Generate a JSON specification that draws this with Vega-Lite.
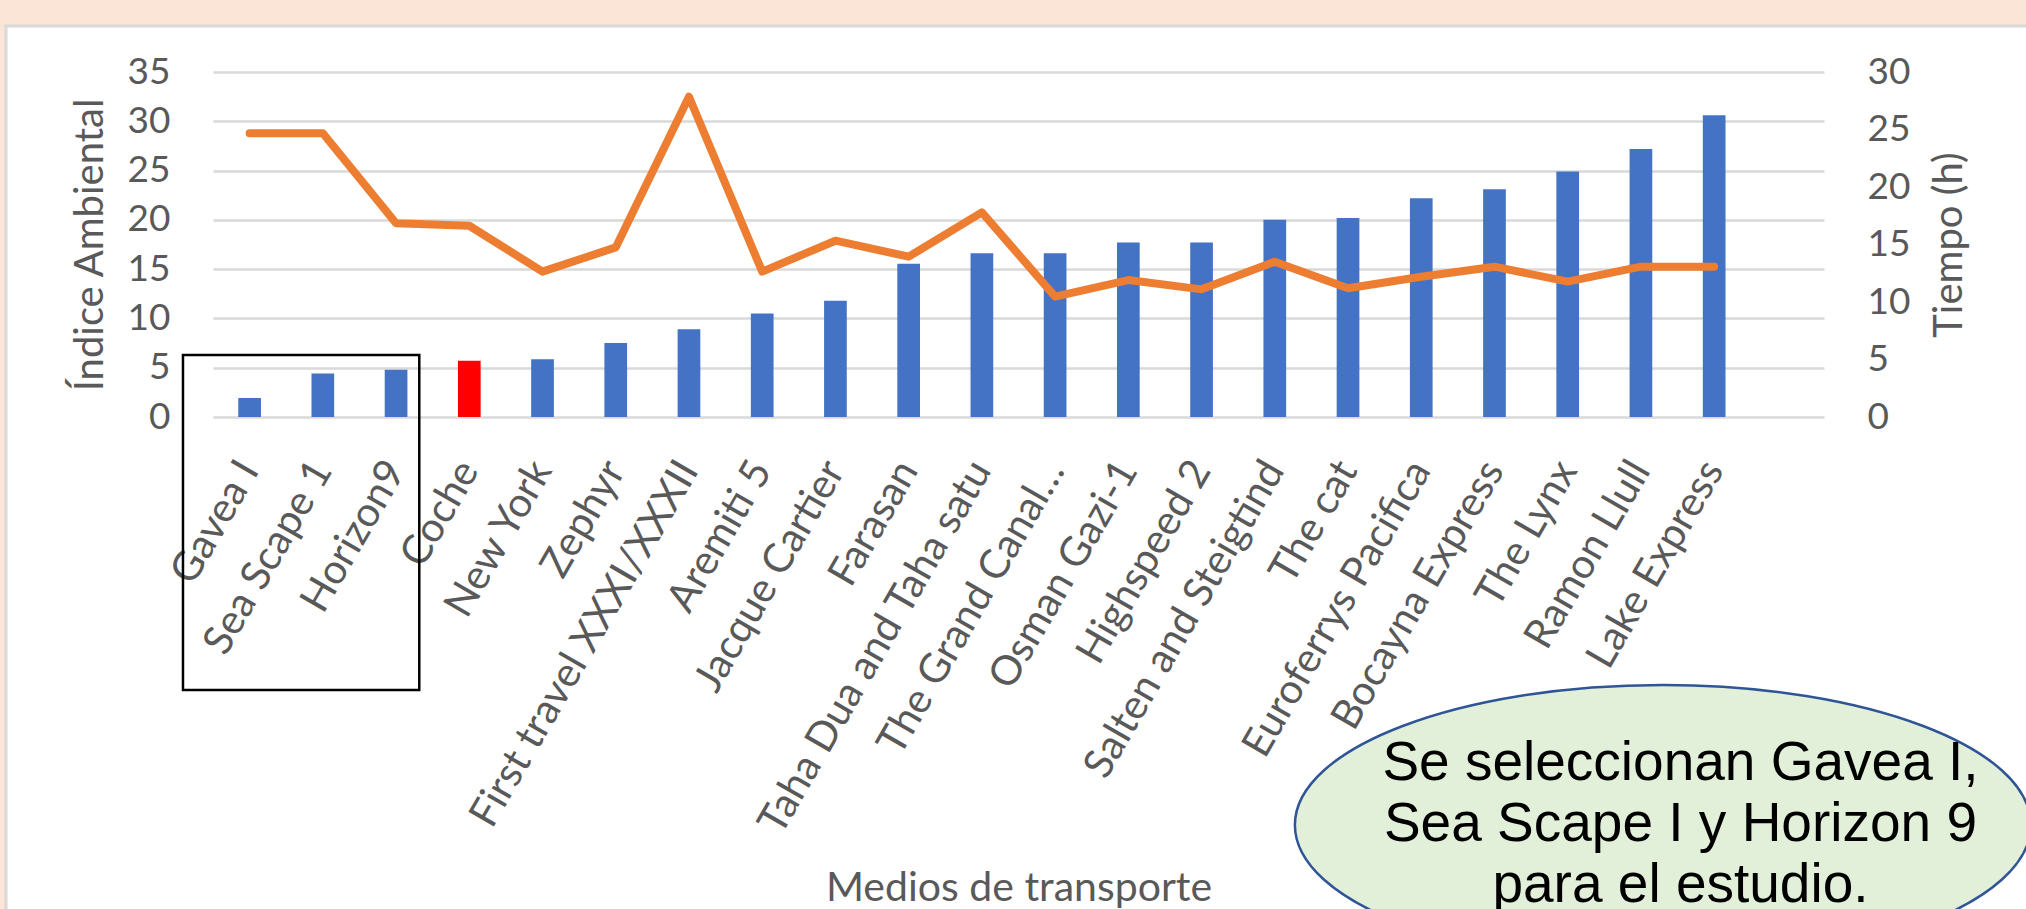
{
  "$schema": "https://vega.github.io/schema/vega-lite/v6.json",
  "width": 1611,
  "height": 345,
  "autosize": {"type": "none"},
  "padding": {"left": 213, "top": 72, "right": 202, "bottom": 492},
  "background": "#FFFFFF",
  "config": {"font": "Lato", "view": {"stroke": null}},
  "resolve": {"scale": {"x": "independent", "y": "independent"}},
  "layer": [
    {
      "data": {"values": [{}]},
      "layer": [
        {
          "mark": {"type": "rect", "fill": "#FBE5D6"},
          "encoding": {
            "x": {"datum": -3.2, "type": "quantitative", "scale": {"domain": [0, 22], "nice": false, "zero": false}, "axis": null},
            "x2": {"datum": 25.5},
            "y": {"datum": 43, "type": "quantitative", "scale": {"domain": [0, 35], "nice": false, "zero": false}, "axis": null},
            "y2": {"datum": 39.67}
          }
        },
        {
          "mark": {"type": "rect", "fill": "#FBE5D6"},
          "encoding": {
            "x": {"datum": -3.2, "type": "quantitative", "scale": {"domain": [0, 22], "nice": false, "zero": false}, "axis": null},
            "x2": {"datum": -2.827},
            "y": {"datum": 43, "type": "quantitative", "scale": {"domain": [0, 35], "nice": false, "zero": false}, "axis": null},
            "y2": {"datum": -52}
          }
        },
        {
          "mark": {"type": "rect", "fill": null, "stroke": "#D9D9D9", "strokeWidth": 3},
          "encoding": {
            "x": {"datum": -2.827, "type": "quantitative", "scale": {"domain": [0, 22], "nice": false, "zero": false}, "axis": null},
            "x2": {"datum": 26},
            "y": {"datum": 39.67, "type": "quantitative", "scale": {"domain": [0, 35], "nice": false, "zero": false}, "axis": null},
            "y2": {"datum": -56}
          }
        }
      ]
    },
    {
      "data": {
        "values": [
          {"n": 1, "medio": "Gavea I", "indice": 1.93, "tiempo": 24.67, "tipo": "barco"},
          {"n": 2, "medio": "Sea Scape 1", "indice": 4.42, "tiempo": 24.67, "tipo": "barco"},
          {"n": 3, "medio": "Horizon9", "indice": 4.8, "tiempo": 16.84, "tipo": "barco"},
          {"n": 4, "medio": "Coche", "indice": 5.7, "tiempo": 16.63, "tipo": "coche"},
          {"n": 5, "medio": "New York", "indice": 5.85, "tiempo": 12.64, "tipo": "barco"},
          {"n": 6, "medio": "Zephyr", "indice": 7.5, "tiempo": 14.75, "tipo": "barco"},
          {"n": 7, "medio": "First travel XXXI/XXXII", "indice": 8.9, "tiempo": 27.85, "tipo": "barco"},
          {"n": 8, "medio": "Aremiti 5", "indice": 10.5, "tiempo": 12.64, "tipo": "barco"},
          {"n": 9, "medio": "Jacque Cartier", "indice": 11.8, "tiempo": 15.33, "tipo": "barco"},
          {"n": 10, "medio": "Farasan", "indice": 15.55, "tiempo": 13.94, "tipo": "barco"},
          {"n": 11, "medio": "Taha Dua and Taha satu", "indice": 16.6, "tiempo": 17.8, "tipo": "barco"},
          {"n": 12, "medio": "The Grand Canal…", "indice": 16.6, "tiempo": 10.46, "tipo": "barco"},
          {"n": 13, "medio": "Osman Gazi-1", "indice": 17.7, "tiempo": 11.91, "tipo": "barco"},
          {"n": 14, "medio": "Highspeed 2", "indice": 17.7, "tiempo": 11.1, "tipo": "barco"},
          {"n": 15, "medio": "Salten and Steigtind", "indice": 20.0, "tiempo": 13.5, "tipo": "barco"},
          {"n": 16, "medio": "The cat", "indice": 20.2, "tiempo": 11.19, "tipo": "barco"},
          {"n": 17, "medio": "Euroferrys Pacifica", "indice": 22.2, "tiempo": 12.2, "tipo": "barco"},
          {"n": 18, "medio": "Bocayna Express", "indice": 23.1, "tiempo": 13.07, "tipo": "barco"},
          {"n": 19, "medio": "The Lynx", "indice": 24.9, "tiempo": 11.77, "tipo": "barco"},
          {"n": 20, "medio": "Ramon Llull", "indice": 27.2, "tiempo": 13.07, "tipo": "barco"},
          {"n": 21, "medio": "Lake Express", "indice": 30.6, "tiempo": 13.07, "tipo": "barco"}
        ]
      },
      "encoding": {
        "x": {
          "field": "medio",
          "type": "nominal",
          "sort": null,
          "scale": {
            "domain": ["Gavea I", "Sea Scape 1", "Horizon9", "Coche", "New York", "Zephyr", "First travel XXXI/XXXII", "Aremiti 5", "Jacque Cartier", "Farasan", "Taha Dua and Taha satu", "The Grand Canal…", "Osman Gazi-1", "Highspeed 2", "Salten and Steigtind", "The cat", "Euroferrys Pacifica", "Bocayna Express", "The Lynx", "Ramon Llull", "Lake Express", " "],
            "paddingInner": 0.69,
            "paddingOuter": 0.345
          },
          "axis": {
            "title": "Medios de transporte",
            "labelAngle": -60,
            "labelAlign": "right",
            "labelBaseline": "middle",
            "labelFontSize": 41,
            "labelColor": "#595959",
            "labelOverlap": false,
            "labelLimit": 0,
            "labelPadding": 47,
            "titleFontSize": 41,
            "titleColor": "#595959",
            "titleFontWeight": "normal",
            "titleBaseline": "alphabetic",
            "titleY": 483,
            "domain": false,
            "ticks": false
          }
        }
      },
      "resolve": {"scale": {"y": "independent"}},
      "layer": [
        {
          "mark": {"type": "bar"},
          "encoding": {
            "y": {
              "field": "indice",
              "type": "quantitative",
              "scale": {"domain": [0, 35], "nice": false},
              "axis": {
                "orient": "left",
                "title": "Índice Ambiental",
                "values": [0, 5, 10, 15, 20, 25, 30, 35],
                "grid": true,
                "gridColor": "#D9D9D9",
                "gridWidth": 2.5,
                "domain": false,
                "ticks": false,
                "labelFontSize": 37,
                "labelColor": "#595959",
                "labelPadding": 43,
                "titleFontSize": 40,
                "titleColor": "#595959",
                "titleFontWeight": "normal",
                "titlePadding": 17
              }
            },
            "color": {
              "field": "tipo",
              "type": "nominal",
              "scale": {"domain": ["barco", "coche"], "range": ["#4472C4", "#FF0000"]},
              "legend": null
            }
          }
        },
        {
          "mark": {"type": "line", "color": "#ED7D31", "strokeWidth": 8, "strokeCap": "round", "strokeJoin": "round"},
          "encoding": {
            "x": {"field": "medio", "type": "nominal", "sort": null, "bandPosition": 0.5},
            "order": {"field": "n", "type": "quantitative"},
            "y": {
              "field": "tiempo",
              "type": "quantitative",
              "scale": {"domain": [0, 30], "nice": false},
              "axis": {
                "orient": "right",
                "title": "Tiempo (h)",
                "values": [0, 5, 10, 15, 20, 25, 30],
                "grid": false,
                "domain": false,
                "ticks": false,
                "labelFontSize": 37,
                "labelColor": "#595959",
                "labelPadding": 43,
                "titleFontSize": 40,
                "titleColor": "#595959",
                "titleFontWeight": "normal",
                "titleAngle": 270,
                "titleBaseline": "top",
                "titlePadding": 20
              }
            }
          }
        }
      ]
    },
    {
      "data": {"values": [{}]},
      "layer": [
        {
          "mark": {"type": "rect", "fill": null, "stroke": "#000000", "strokeWidth": 2.5},
          "encoding": {
            "x": {"datum": -0.41, "type": "quantitative", "scale": {"domain": [0, 22], "nice": false, "zero": false}, "axis": null},
            "x2": {"datum": 2.817},
            "y": {"datum": 6.29, "type": "quantitative", "scale": {"domain": [0, 35], "nice": false, "zero": false}, "axis": null},
            "y2": {"datum": -27.7}
          }
        },
        {
          "mark": {
            "type": "point",
            "shape": "M -1 0 C -1 -0.2101 -0.5523 -0.3804 0 -0.3804 C 0.5523 -0.3804 1 -0.2101 1 0 C 1 0.2101 0.5523 0.3804 0 0.3804 C -0.5523 0.3804 -1 0.2101 -1 0 Z",
            "size": 541696,
            "filled": true,
            "fill": "#E2F0D9",
            "stroke": "#2F5597",
            "strokeWidth": 2.5,
            "opacity": 1,
            "fillOpacity": 1,
            "strokeOpacity": 1
          },
          "encoding": {
            "x": {"datum": 19.8, "type": "quantitative", "scale": {"domain": [0, 22], "nice": false, "zero": false}, "axis": null},
            "y": {"datum": -41.39, "type": "quantitative", "scale": {"domain": [0, 35], "nice": false, "zero": false}, "axis": null}
          }
        },
        {
          "mark": {
            "type": "text",
            "text": ["Se seleccionan Gavea I,", "Sea Scape I y Horizon 9", "para el estudio."],
            "font": "Liberation Sans",
            "fontSize": 55,
            "lineHeight": 61,
            "align": "center",
            "baseline": "alphabetic",
            "color": "#000000"
          },
          "encoding": {
            "x": {"datum": 20.04, "type": "quantitative", "scale": {"domain": [0, 22], "nice": false, "zero": false}, "axis": null},
            "y": {"datum": -36.83, "type": "quantitative", "scale": {"domain": [0, 35], "nice": false, "zero": false}, "axis": null}
          }
        }
      ]
    }
  ]
}
